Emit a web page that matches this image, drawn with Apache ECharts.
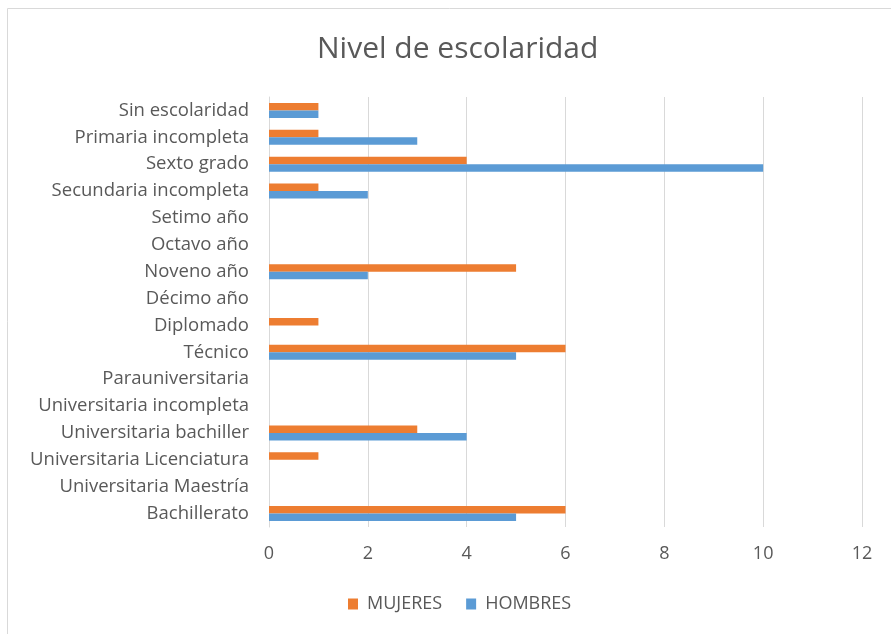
<!DOCTYPE html>
<html>
<head>
<meta charset="utf-8">
<script src="https://cdn.jsdelivr.net/npm/echarts@6/dist/echarts.min.js"></script>
<style>
  html, body { margin: 0; padding: 0; background: #fff; }
  #chart { width: 891px; height: 634px; }
</style>
</head>
<body>
<div id="chart"></div>
<script>
// categorías (de arriba hacia abajo)
const categorias = [
  "Sin escolaridad", "Primaria incompleta", "Sexto grado", "Secundaria incompleta",
  "Setimo año", "Octavo año", "Noveno año", "Décimo año", "Diplomado", "Técnico",
  "Parauniversitaria", "Universitaria incompleta", "Universitaria bachiller",
  "Universitaria Licenciatura", "Universitaria Maestría", "Bachillerato"
];
const mujeres = [1, 1, 4, 1, 0, 0, 5, 0, 1, 6, 0, 0, 3, 1, 0, 6];
const hombres = [1, 3, 10, 2, 0, 0, 2, 0, 0, 5, 0, 0, 4, 0, 0, 5];
const ticks = [0, 2, 4, 6, 8, 10, 12];

const textColor = "#595959";
const font = "'Open Sans', 'Noto Sans', sans-serif";

const chart = echarts.init(document.getElementById("chart"));
chart.setOption({
  animation: false,
  textStyle: { fontFamily: font },
  title: {
    text: "Nivel de escolaridad",
    left: 312,
    top: 29,
    textStyle: { fontSize: 30, fontWeight: "normal", color: textColor, fontFamily: font }
  },
  // borde del área del gráfico (recortado abajo y a la derecha)
  graphic: [{
    type: "rect",
    shape: { x: 7.5, y: 8.5, width: 900, height: 700 },
    style: { fill: null, stroke: "#d9d9d9", lineWidth: 1 },
    silent: true
  }],
  legend: {
    bottom: 16,
    left: 343,
    itemWidth: 10,
    itemHeight: 11,
    itemGap: 24,
    icon: "rect",
    textStyle: { fontSize: 18, color: textColor, fontFamily: font, padding: [0, 0, 0, 4] },
    data: ["MUJERES", "HOMBRES"]
  },
  color: ["#ED7D31", "#5B9BD5"],
  grid: { left: 269, right: 29, top: 97, bottom: 107 },
  xAxis: {
    type: "value",
    min: ticks[0],
    max: ticks[ticks.length - 1],
    interval: 2,
    axisLine: { show: false },
    axisTick: { show: false },
    axisLabel: { color: textColor, fontSize: 18, margin: 18 },
    splitLine: { show: true, lineStyle: { color: "#d9d9d9", width: 1 } }
  },
  yAxis: {
    type: "category",
    inverse: true,
    data: categorias,
    axisLine: { show: true, lineStyle: { color: "#d9d9d9" } },
    axisTick: { show: false },
    axisLabel: { color: textColor, fontSize: 18.5, margin: 20 }
  },
  series: [
    {
      name: "MUJERES",
      type: "bar",
      data: mujeres,
      barWidth: 7.5,
      barGap: "0%"
    },
    {
      name: "HOMBRES",
      type: "bar",
      data: hombres,
      barWidth: 7.5,
      barGap: "0%"
    }
  ]
});
</script>
</body>
</html>
